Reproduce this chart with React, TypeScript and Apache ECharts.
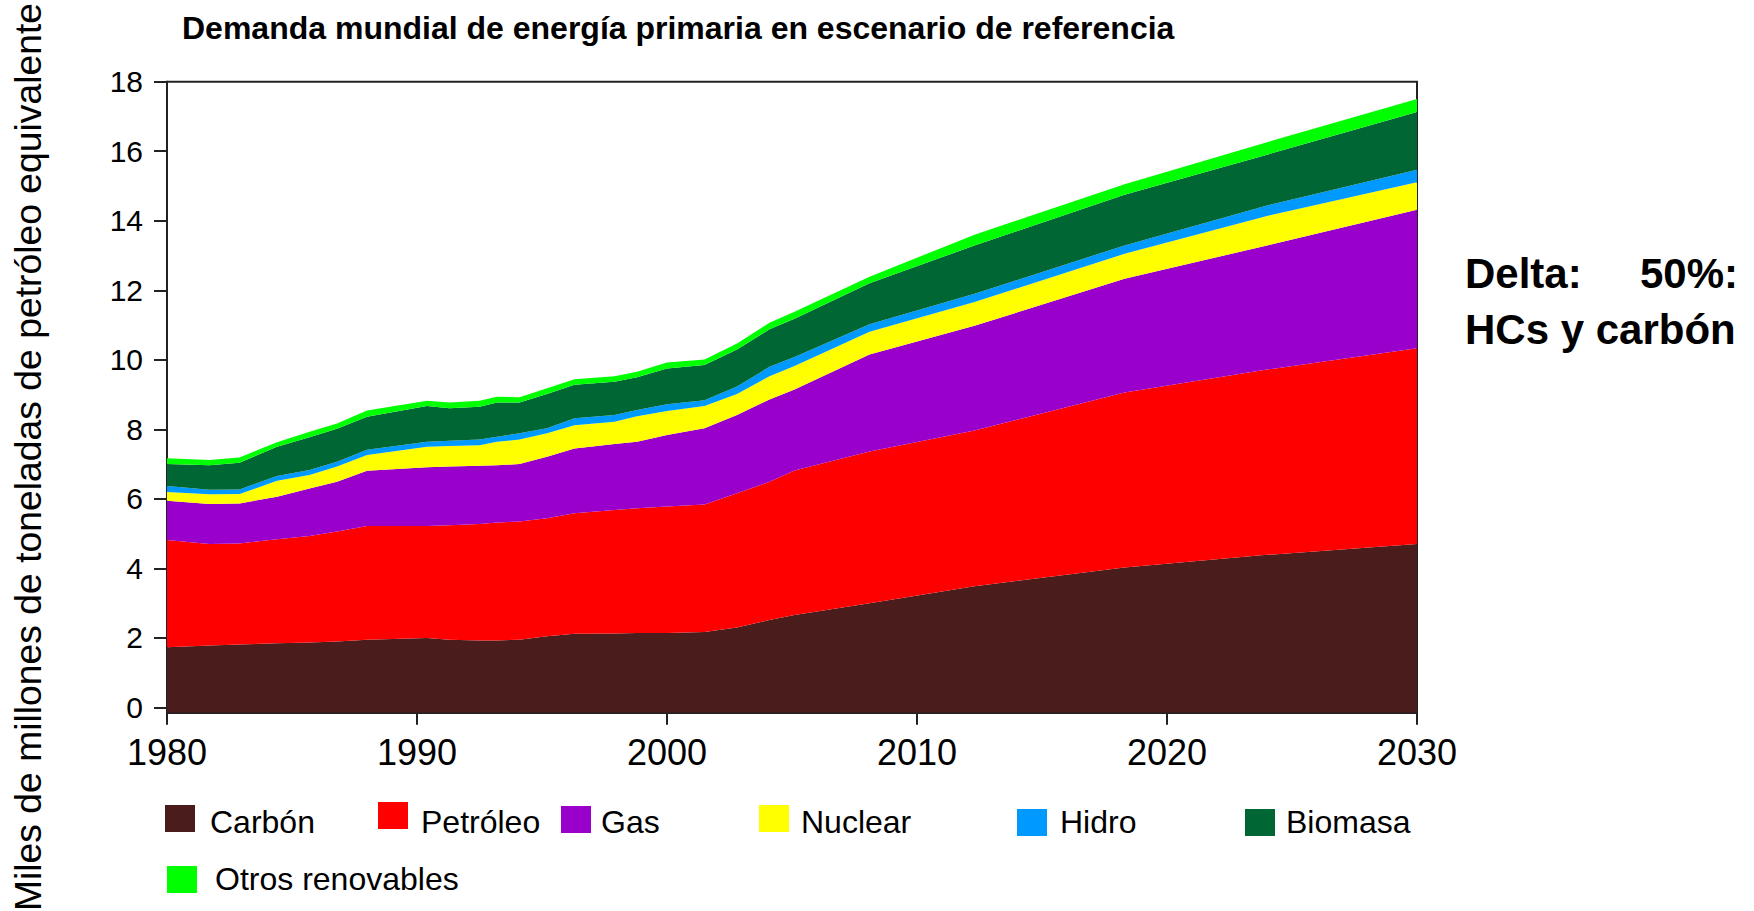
import React, { useEffect, useRef } from "react";
import * as echarts from "echarts";

const FONT = "'Liberation Sans', Arial, Helvetica, sans-serif";

const title = "Demanda mundial de energía primaria en escenario de referencia";
const yAxisTitle = "Miles de millones de toneladas de petróleo equivalente";
const noteLine1a = "Delta:";
const noteLine1b = "50%:";
const noteLine2 = "HCs y carbón";

const years = [
  1980, 1981.7, 1982.9, 1984.4, 1985.7, 1986.8, 1988, 1990.4, 1991.3, 1992.5,
  1993.2, 1994.1, 1995.2, 1996.3, 1997.9, 1998.8, 2000, 2001.5, 2002.8, 2004.1,
  2005.1, 2008.1, 2012.3, 2018.3, 2024, 2030,
];

const carbon = [
  1.73, 1.78, 1.81, 1.85, 1.87, 1.9, 1.95, 2.0, 1.95, 1.93, 1.93, 1.95, 2.05,
  2.12, 2.13, 2.14, 2.14, 2.17, 2.3, 2.52, 2.66, 3.0, 3.49, 4.03, 4.39, 4.7,
];
const petroleo = [
  3.09, 2.92, 2.91, 2.99, 3.06, 3.16, 3.27, 3.22, 3.29, 3.35, 3.39, 3.4, 3.39,
  3.47, 3.55, 3.59, 3.64, 3.67, 3.86, 3.97, 4.16, 4.36, 4.48, 5.03, 5.33, 5.63,
];
const gas = [
  1.13, 1.15, 1.15, 1.22, 1.37, 1.43, 1.59, 1.69, 1.69, 1.67, 1.65, 1.65, 1.77,
  1.86, 1.9, 1.91, 2.06, 2.19, 2.25, 2.37, 2.33, 2.79, 3.01, 3.27, 3.57, 3.99,
];
const nuclear = [
  0.25, 0.28, 0.27, 0.46, 0.39, 0.44, 0.45, 0.59, 0.59, 0.59, 0.67, 0.71, 0.68,
  0.67, 0.64, 0.74, 0.69, 0.64, 0.61, 0.67, 0.67, 0.66, 0.68, 0.72, 0.85, 0.79,
];
const hidro = [
  0.17, 0.13, 0.13, 0.14, 0.14, 0.14, 0.15, 0.14, 0.15, 0.17, 0.15, 0.18, 0.14,
  0.2, 0.19, 0.18, 0.19, 0.17, 0.21, 0.27, 0.26, 0.21, 0.24, 0.24, 0.3, 0.36,
];
const biomasa = [
  0.63, 0.71, 0.77, 0.84, 0.94, 0.95, 0.95, 1.03, 0.94, 0.94, 0.98, 0.88, 0.99,
  0.96, 0.96, 0.94, 1.03, 1.01, 1.07, 1.08, 1.1, 1.18, 1.39, 1.46, 1.46, 1.66,
];
const otros = [
  0.17, 0.15, 0.15, 0.13, 0.16, 0.15, 0.18, 0.15, 0.16, 0.17, 0.17, 0.15, 0.16,
  0.16, 0.16, 0.16, 0.17, 0.16, 0.17, 0.19, 0.2, 0.19, 0.31, 0.3, 0.36, 0.37,
];

const seriesNames = ["Carbón", "Petróleo", "Gas", "Nuclear", "Hidro", "Biomasa", "Otros renovables"];
const seriesValues = [carbon, petroleo, gas, nuclear, hidro, biomasa, otros];
const seriesColors = ["#4a1c1c", "#ff0000", "#9900cc", "#ffff00", "#0099ff", "#006633", "#00ff00"];

const yTicks = [0, 2, 4, 6, 8, 10, 12, 14, 16, 18];

// legend layout: swatch left, swatch top, text left, text center y
const legendLayout: [number, number, number, number][] = [
  [165, 805, 210, 822],
  [378, 802, 421, 822],
  [561, 806, 601, 822],
  [759, 805, 801, 822],
  [1017, 809, 1060, 822],
  [1245, 809, 1286, 822],
  [167, 866, 215, 879],
];

export default function App() {
  const ref = useRef<HTMLDivElement>(null);

  useEffect(() => {
    if (!ref.current) return;
    const chart = echarts.init(ref.current, undefined, { renderer: "svg" });

    // value is stored first so that stacking applies to the value dimension
    const series = seriesNames.map((name, si) => ({
      name,
      type: "line",
      stack: "total",
      symbol: "none",
      smooth: false,
      encode: { x: 1, y: 0 },
      lineStyle: { width: 0 },
      areaStyle:
        si === 0
          ? { opacity: 1, origin: "start", color: seriesColors[si] }
          : { opacity: 1, color: seriesColors[si] },
      itemStyle: { color: seriesColors[si] },
      data: years.map((y, i) => [seriesValues[si][i], y]),
    }));

    const legendGraphics: any[] = [];
    seriesNames.forEach((name, i) => {
      const [sx, sy, tx, ty] = legendLayout[i];
      legendGraphics.push({
        type: "rect",
        shape: { x: sx, y: sy, width: 30, height: 27 },
        style: { fill: seriesColors[i] },
      });
      legendGraphics.push({
        type: "text",
        x: tx,
        y: ty,
        style: {
          text: name,
          font: `32px ${FONT}`,
          fill: "#000",
          align: "left",
          verticalAlign: "middle",
        },
      });
    });

    chart.setOption({
      animation: false,
      backgroundColor: "#fff",
      textStyle: { fontFamily: FONT },
      grid: {
        left: 167,
        right: 337,
        top: 81.7,
        bottom: 198.3,
        show: true,
        borderColor: "#222",
        borderWidth: 2,
        backgroundColor: "transparent",
        outerBoundsMode: "none",
        containLabel: false,
      },
      xAxis: {
        type: "value",
        min: 1980,
        max: 2030,
        interval: 10,
        axisLine: { show: true, onZero: false, lineStyle: { color: "#222", width: 2 } },
        axisTick: { show: true, inside: false, length: 12, lineStyle: { color: "#222", width: 2 } },
        axisLabel: {
          fontSize: 36,
          color: "#000",
          margin: 22,
          fontFamily: FONT,
          formatter: (v: number) => String(v),
        },
        splitLine: { show: false },
      },
      yAxis: {
        type: "value",
        min: -0.15,
        max: 18,
        axisLine: { show: true, lineStyle: { color: "#222", width: 2 } },
        axisTick: {
          show: true,
          inside: false,
          length: 13,
          customValues: yTicks,
          lineStyle: { color: "#222", width: 2 },
        },
        axisLabel: {
          fontSize: 30,
          color: "#000",
          margin: 24,
          fontFamily: FONT,
          customValues: yTicks,
        },
        splitLine: { show: false },
      },
      graphic: [
        {
          type: "text",
          left: 182,
          top: 12,
          style: {
            text: title,
            font: `bold 32px ${FONT}`,
            fill: "#000",
          },
        },
        {
          type: "text",
          x: 28,
          y: 457,
          rotation: Math.PI / 2,
          style: {
            text: yAxisTitle,
            font: `37.3px ${FONT}`,
            fill: "#000",
            align: "center",
            verticalAlign: "middle",
          },
        },
        {
          type: "text",
          x: 1465,
          y: 273,
          style: {
            text: noteLine1a,
            font: `bold 42px ${FONT}`,
            fill: "#000",
            align: "left",
            verticalAlign: "middle",
          },
        },
        {
          type: "text",
          x: 1738,
          y: 273,
          style: {
            text: noteLine1b,
            font: `bold 42px ${FONT}`,
            fill: "#000",
            align: "right",
            verticalAlign: "middle",
          },
        },
        {
          type: "text",
          x: 1465,
          y: 329,
          style: {
            text: noteLine2,
            font: `bold 42px ${FONT}`,
            fill: "#000",
            align: "left",
            verticalAlign: "middle",
          },
        },
        ...legendGraphics,
      ],
      series,
    });

    return () => chart.dispose();
  }, []);

  return (
    <div
      ref={ref}
      style={{ position: "absolute", left: 0, top: 0, width: 1754, height: 911 }}
    />
  );
}
